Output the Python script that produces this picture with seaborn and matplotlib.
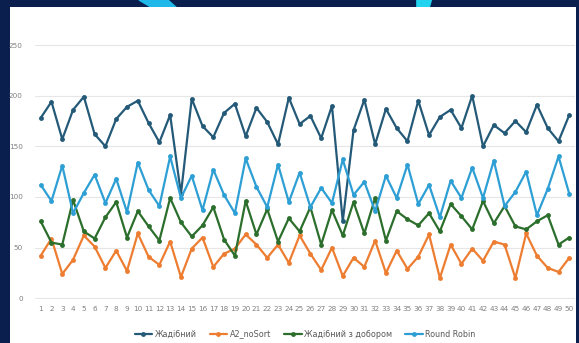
import pandas as pd
import seaborn as sns
import matplotlib.pyplot as plt
from matplotlib.patches import Rectangle, Polygon

runs = list(range(1, 51))

greedy = [178, 194, 157, 186, 199, 162, 150, 177, 189, 195,
          173, 154, 181, 103, 197, 170, 159, 183, 192, 160,
          188, 174, 152, 198, 172, 180, 158, 190, 76, 166,
          196, 152, 187, 168, 155, 195, 161, 179, 186, 168,
          200, 150, 171, 163, 175, 164, 191, 168, 155, 181]

a2_nosort = [42, 59, 24, 38, 62, 51, 30, 47, 27, 64,
             41, 33, 56, 21, 49, 60, 31, 44, 49, 63,
             53, 40, 53, 35, 62, 44, 28, 50, 22, 40,
             31, 57, 25, 47, 29, 41, 63, 20, 53, 34,
             49, 37, 56, 53, 20, 64, 42, 30, 26, 40]

greedy_sel = [76, 55, 53, 97, 66, 59, 80, 95, 60, 86,
              71, 57, 99, 75, 61, 72, 90, 58, 42, 96,
              63, 88, 56, 79, 66, 90, 53, 87, 62, 95,
              64, 99, 57, 86, 78, 72, 84, 66, 93, 81,
              68, 96, 74, 91, 71, 68, 76, 82, 53, 60]

round_robin = [112, 96, 131, 84, 104, 122, 94, 118, 85, 134,
               107, 91, 140, 99, 121, 87, 127, 102, 84, 138,
               110, 90, 132, 95, 124, 90, 109, 94, 137, 102,
               115, 86, 121, 99, 132, 93, 112, 80, 116, 99,
               129, 99, 136, 91, 105, 125, 82, 108, 140, 103]

series_names = ["Жадібний", "A2_noSort", "Жадібний з добором", "Round Robin"]
colors = ["#245a78", "#ed7d31", "#2c6e2c", "#2e9fd4"]

df = pd.DataFrame({"run": runs * 4,
                   "value": greedy + a2_nosort + greedy_sel + round_robin,
                   "series": sum([[n] * 50 for n in series_names], [])})

sns.set_style("white")
fig = plt.figure(figsize=(5.79, 3.43), dpi=100)
fig.patch.set_facecolor("#0b1f4f")

# slide background: top band decoration and white panel
fig.add_artist(Polygon([[0.24, 1.0], [0.29, 1.0], [0.31, 0.97], [0.27, 0.97]],
                       closed=True, transform=fig.transFigure, color="#1fb8e8", zorder=0))
fig.add_artist(Polygon([[0.72, 1.0], [0.745, 1.0], [0.74, 0.97], [0.72, 0.97]],
                       closed=True, transform=fig.transFigure, color="#22d3f0", zorder=0))
fig.add_artist(Rectangle((10 / 579, 0), 566 / 579, 1 - 7 / 343,
                         transform=fig.transFigure, facecolor="white",
                         edgecolor="none", zorder=0))

ax = fig.add_axes([35.3 / 579, 0.1274, 539.4 / 579, 0.7443])
ax.set_facecolor("none")

sns.lineplot(data=df, x="run", y="value", hue="series", palette=colors,
             hue_order=series_names, marker="o", markersize=3.5,
             markeredgewidth=0, linewidth=1.6, ax=ax, legend=True)

ax.set_xlim(0.5, 50.5)
ax.set_ylim(-1, 251)
ax.set_xticks(runs)
ax.set_yticks([0, 50, 100, 150, 200, 250])
ax.tick_params(axis="both", labelsize=5.2, colors="#808080", length=0, pad=5)
ax.tick_params(axis="y", pad=9)
ax.grid(axis="y", color="#e6e6e6", linewidth=0.8)
ax.set_axisbelow(True)
ax.set_xlabel("")
ax.set_ylabel("")
for s in ax.spines.values():
    s.set_visible(False)

handles, labels = ax.get_legend_handles_labels()
ax.legend(handles, labels, loc="upper center", bbox_to_anchor=(0.5, -0.09),
          ncol=4, frameon=False, fontsize=5.8, labelcolor="#595959",
          handlelength=2.2, handletextpad=0.3, columnspacing=1.6)

fig.savefig("out.png", dpi=100, facecolor=fig.get_facecolor())
